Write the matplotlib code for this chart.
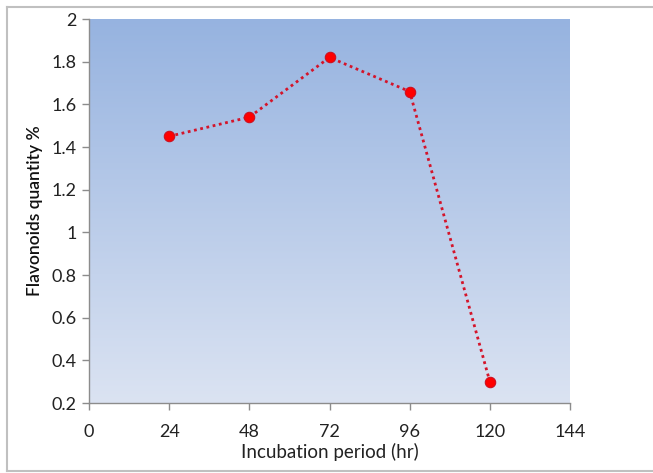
import numpy as np
import matplotlib
matplotlib.use("Agg")
import matplotlib.pyplot as plt
from matplotlib.lines import Line2D
from matplotlib.colors import LinearSegmentedColormap

hours = [24, 48, 72, 96, 120]
flavonoids = [1.45, 1.54, 1.82, 1.66, 0.30]
x_ticks = [0, 24, 48, 72, 96, 120, 144]
y_ticks = [0.2, 0.4, 0.6, 0.8, 1.0, 1.2, 1.4, 1.6, 1.8, 2.0]
y_tick_labels = ["0.2", "0.4", "0.6", "0.8", "1", "1.2", "1.4", "1.6", "1.8", "2"]

plt.rcParams['font.family'] = ['Lato', 'DejaVu Sans']

fig = plt.figure(figsize=(6.53, 4.73), dpi=100)
ax = fig.add_axes([89/653, 70/473, 481/653, 384/473])

# gradient background
cmap = LinearSegmentedColormap.from_list("bg", ["#dbe3f2", "#96b3e0"])
grad = np.linspace(0, 1, 256).reshape(-1, 1)
ax.imshow(grad, aspect='auto', cmap=cmap, origin='lower',
          extent=[0, 1, 0, 1], transform=ax.transAxes, zorder=0)

ax.plot(hours, flavonoids, linestyle=(0, (1, 1.3)), color='#d4142a', linewidth=2.0,
        marker='o', markersize=7.5, markerfacecolor='#ff0000',
        markeredgecolor='#cc1020', markeredgewidth=0.8, zorder=3)

ax.set_xlim(0, 144)
ax.set_ylim(0.2, 2.0)
ax.set_xticks(x_ticks)
ax.set_xticklabels([str(v) for v in x_ticks])
ax.set_yticks(y_ticks)
ax.set_yticklabels(y_tick_labels)

for s in ['top', 'right']:
    ax.spines[s].set_visible(False)
for s in ['left', 'bottom']:
    ax.spines[s].set_color('#8c8c8c')
    ax.spines[s].set_linewidth(1.0)

ax.tick_params(axis='both', direction='out', length=5, width=1, color='#8c8c8c',
               labelsize=13, labelcolor='#222222')
ax.tick_params(axis='x', pad=10)
ax.tick_params(axis='y', pad=4)

ax.set_xlabel("Incubation period (hr)", fontsize=13.5, color='#222222', labelpad=2)
ax.set_ylabel("Flavonoids quantity %", fontsize=12.5, color='#111111', labelpad=6,
              fontweight='semibold')

# figure border
c = '#c0c0c0'
fig.add_artist(Line2D([7/653, 1.0], [466/473, 466/473], color=c, lw=1.5, transform=fig.transFigure))
fig.add_artist(Line2D([7/653, 7/653], [2/473, 466/473], color=c, lw=1.5, transform=fig.transFigure))
fig.add_artist(Line2D([7/653, 1.0], [2/473, 2/473], color=c, lw=1.5, transform=fig.transFigure))

fig.savefig("out.png", dpi=100)
